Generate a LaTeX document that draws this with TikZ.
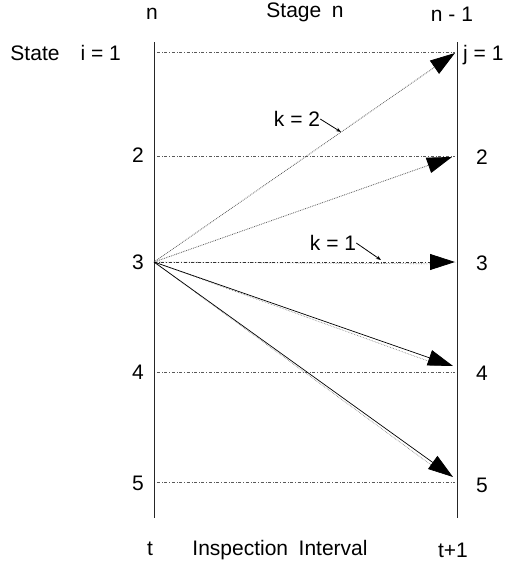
\documentclass[tikz,border=0pt]{standalone}
\usepackage{fontspec}
\setmainfont{Liberation Sans}
\usetikzlibrary{arrows.meta}

\begin{document}
\begin{tikzpicture}[
    x=1pt, y=-1pt,
    lbl/.style={font=\fontsize{21}{23}\selectfont, inner sep=0pt},
    axis/.style={line width=0.9pt, black!85},
    row/.style={dash dot, line width=0.6pt, black!65},
    bigtip/.style={-{Triangle[length=25pt, width=16pt, black]}},
    pathdot/.style={bigtip, densely dotted, line width=0.8pt, black!65},
    pathdash/.style={bigtip, dash dot, line width=0.8pt, black!80},
    pathsolid/.style={bigtip, line width=0.7pt, black},
    shadow/.style={densely dotted, line width=0.6pt, black!55, shorten >=22pt},
    pointer/.style={-{Stealth[length=5pt]}, line width=0.8pt}
]
\useasboundingbox (0,0) rectangle (522,565);

% ===== AXES: stage n (left) and stage n-1 (right) =====
\coordinate (ltop) at (154,42);
\coordinate (lbot) at (154,518);
\coordinate (rtop) at (457,42);
\coordinate (rbot) at (457,518);
\draw[axis] (ltop) -- (lbot);
\draw[axis] (rtop) -- (rbot);

% State rows
\coordinate (a1) at (157,52);  \coordinate (b1) at (455,52);
\coordinate (a2) at (157,156); \coordinate (b2) at (455,156);
\coordinate (a3) at (154,262); \coordinate (b3) at (455,262);
\coordinate (a4) at (157,372); \coordinate (b4) at (455,372);
\coordinate (a5) at (157,482); \coordinate (b5) at (455,482);
\draw[row] (a1) -- (b1);
\draw[row] (a2) -- (b2);
\draw[row] (a3) -- (b3);
\draw[row] (a4) -- (b4);
\draw[row] (a5) -- (b5);

% ===== HEADINGS =====
\node[lbl] (hn) at (152,14) {n};
\node[lbl] (hstage) at (305,12) {Stage\hspace{0.5em}n};
\node[lbl] (hn1) at (452,14) {n - 1};

% Left state labels
\node[lbl, anchor=east] (i1) at (121,53) {State\hspace{1em}i = 1};
\node[lbl] (i2) at (138,155) {2};
\node[lbl] (i3) at (138,262) {3};
\node[lbl] (i4) at (138,372) {4};
\node[lbl] (i5) at (138,483) {5};

% Right state labels
\node[lbl, anchor=west] (j1) at (463,55) {j = 1};
\node[lbl] (j2) at (482,157) {2};
\node[lbl] (j3) at (482,263) {3};
\node[lbl] (j4) at (482,373) {4};
\node[lbl] (j5) at (482,485) {5};

% ===== TRANSITIONS from state 3 =====
\coordinate (t1) at (455,53);
\coordinate (t2) at (452,157);
\coordinate (t3) at (455,262);
\coordinate (t4) at (453,366);
\coordinate (t5) at (453,477);

\draw[pathdot] (a3) -- (t1);
\draw[pathdot] (a3) -- (t2);
\draw[shadow] (a3) -- ([yshift=-2pt]t3);
\draw[pathdash] (a3) -- (t3);
\draw[shadow] (a3) -- ([yshift=-4pt]t4);
\draw[pathsolid] (a3) -- (t4);
\draw[shadow] (a3) -- ([yshift=-4pt]t5);
\draw[pathsolid] (a3) -- (t5);

% Action labels
\node[lbl] (k2) at (297,119) {k = 2};
\coordinate (k2end) at (341,132);
\draw[pointer] (k2.east) -- (k2end);
\node[lbl] (k1) at (333,243) {k = 1};
\coordinate (k1end) at (381,260);
\draw[pointer] (k1.east) -- (k1end);

% ===== BOTTOM: time axis =====
\node[lbl] (tt) at (150,549) {t};
\node[lbl] (tint) at (280,550) {Inspection\hspace{0.5em}Interval};
\node[lbl] (tt1) at (453,550) {t+1};

\end{tikzpicture}
\end{document}
